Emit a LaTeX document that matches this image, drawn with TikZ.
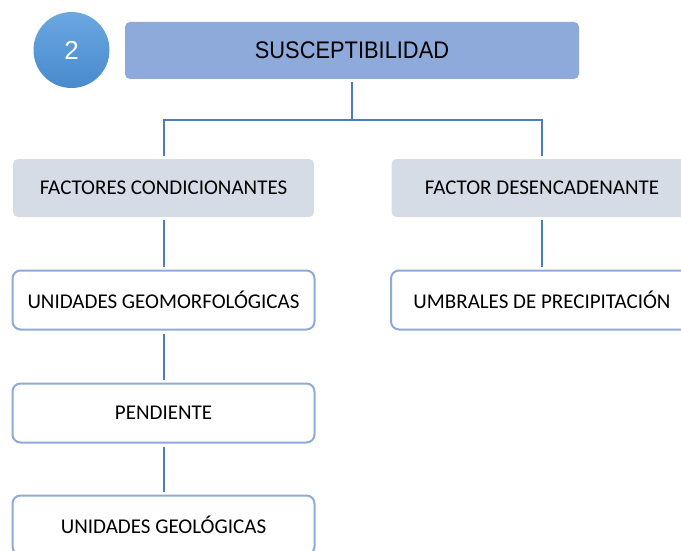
\documentclass[tikz,border=0pt]{standalone}
\usepackage{fontspec}
\setmainfont{Carlito}
\newfontfamily\arialfont{Liberation Sans}
\newfontfamily\narrowfont[FakeStretch=0.91]{Liberation Sans}
\usepackage{tikz}
\usetikzlibrary{positioning}
\definecolor{ssblue}{RGB}{142,170,219}
\definecolor{ssgray}{RGB}{214,220,229}
\definecolor{sslink}{RGB}{74,126,187}
\definecolor{sstop}{RGB}{108,168,224}
\definecolor{ssbot}{RGB}{72,138,206}

\begin{document}
\begin{tikzpicture}[x=1pt, y=-1pt,
        numball/.style={circle, minimum size=76pt, inner sep=0pt, top color=sstop, bottom color=ssbot, text=white, font=\arialfont\fontsize{26}{30}\selectfont},
        title/.style={fill=ssblue, rounded corners=5pt, minimum width=454pt, minimum height=57pt, font=\narrowfont\fontsize{24}{28}\selectfont},
        factor/.style={fill=ssgray, rounded corners=5pt, minimum width=301pt, minimum height=58pt, font=\fontsize{21}{25}\selectfont},
        item/.style={draw=ssblue, line width=2pt, fill=white, rounded corners=8pt, minimum width=302pt, minimum height=59pt, font=\fontsize{21}{25}\selectfont},
        link/.style={draw=sslink, line width=2pt, shorten <=3pt, shorten >=3pt}
      ]
      \clip (0,0) rectangle (681,551);

      \node[numball] (num) at (71.5,50) {2};
      \node[title] (susc) at (352,50.5) {SUSCEPTIBILIDAD};

      \node[factor] (fcond) at (163.5,188) {FACTORES CONDICIONANTES};
      \node[factor] (fdes) at (542,188) {FACTOR DESENCADENANTE};

      \node[item] (geomorf) at (163.5,300) {UNIDADES GEOMORFOLÓGICAS};
      \node[item] (umbral) at (542,300) {UMBRALES DE PRECIPITACIÓN};
      \node[item] (pend) at (163.5,413) {PENDIENTE};
      \node[item] (geol) at (163.5,525) {UNIDADES GEOLÓGICAS};

      \coordinate (split) at (352,120);
      \draw[link, shorten >=0pt] (susc) -- (split);
      \draw[link, shorten <=0pt] (split) -| (fdes.north);
      \draw[link, shorten <=0pt] (split) -| (fcond.north);

      \draw[link] (fcond) -- (geomorf);
      \draw[link] (geomorf) -- (pend);
      \draw[link] (pend) -- (geol);
      \draw[link] (fdes) -- (umbral);
    \end{tikzpicture}
\end{document}
